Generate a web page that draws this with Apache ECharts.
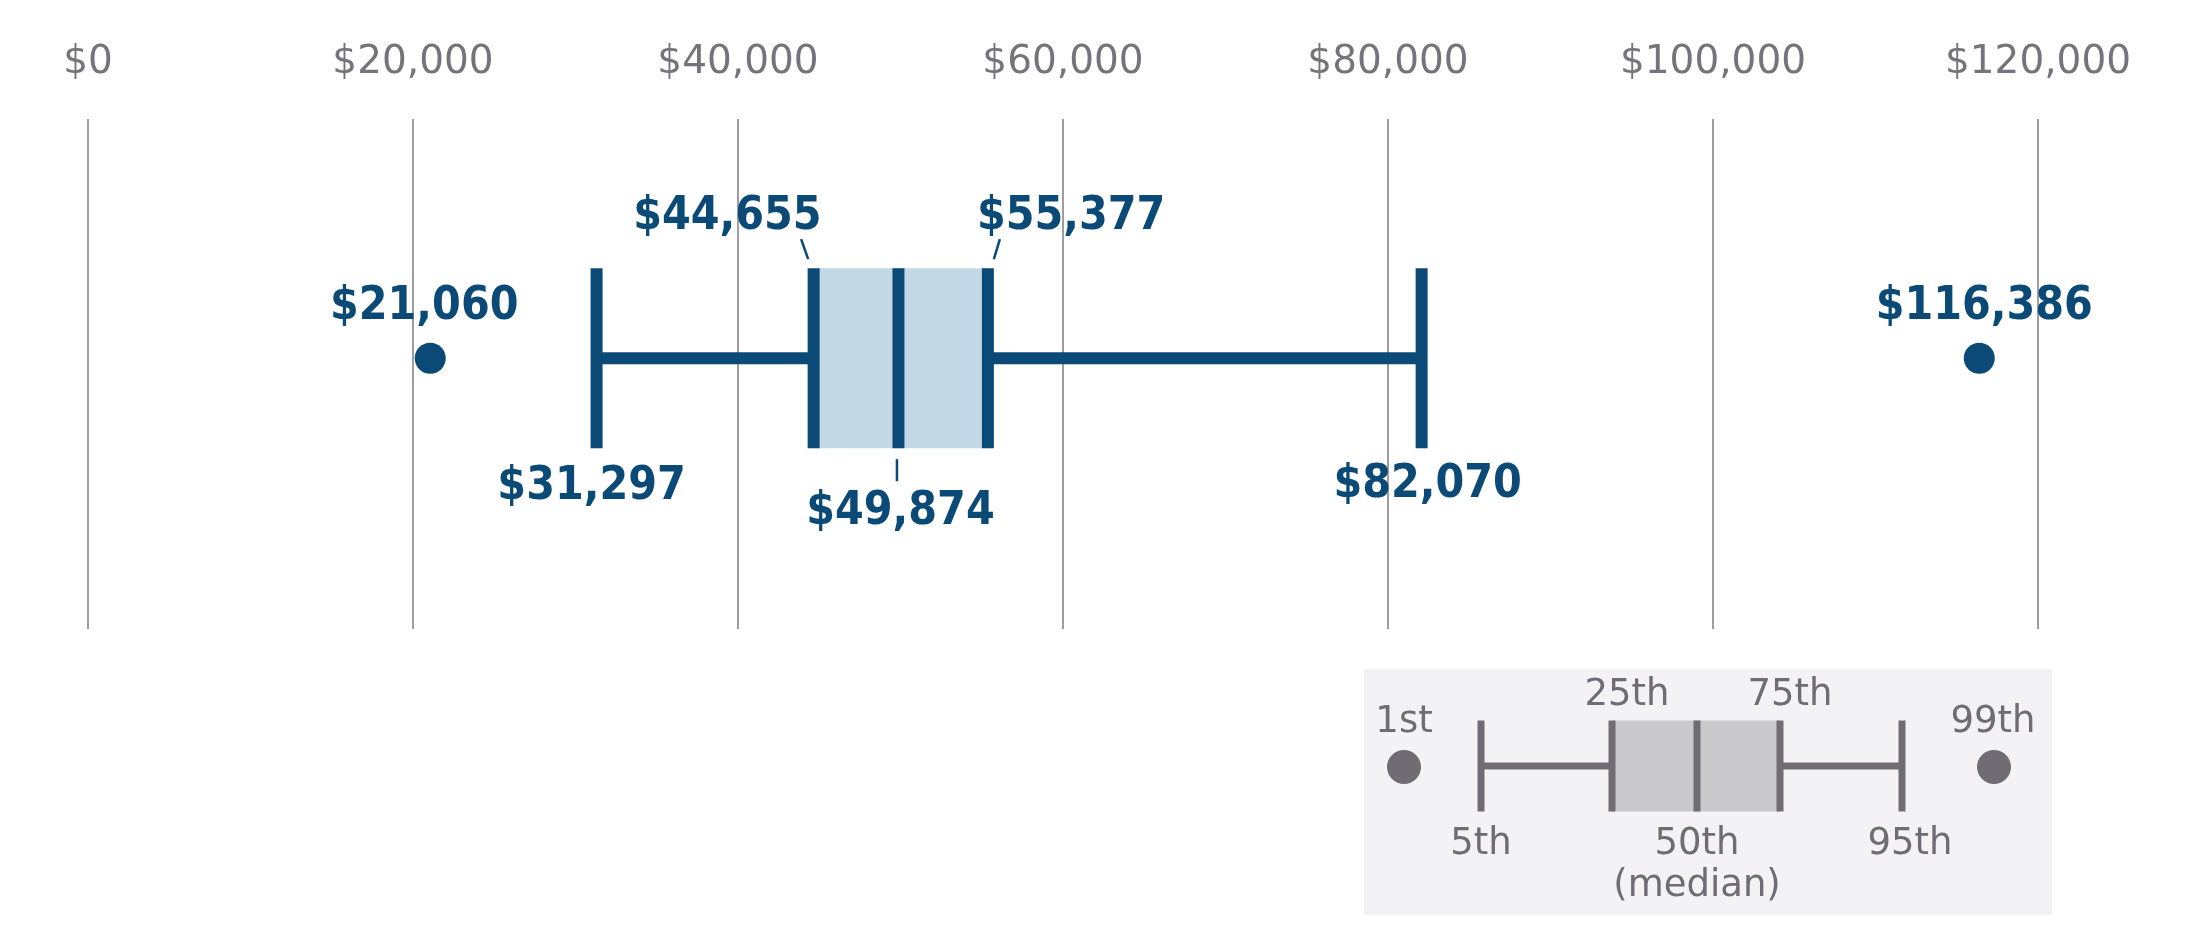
<!DOCTYPE html>
<html>
<head>
<meta charset="utf-8">
<script src="https://cdn.jsdelivr.net/npm/echarts@6/dist/echarts.min.js"></script>
<style>
html,body{margin:0;padding:0;background:#fff;}
#chart{width:2188px;height:943px;}
</style>
</head>
<body>
<div id="chart"></div>
<script>
// ---- data ----
const percentileNames = ['1st', '5th', '25th', '50th', '75th', '95th', '99th'];
const percentileValues = [21060, 31297, 44655, 49874, 55377, 82070, 116386];
const tickValues = [0, 20000, 40000, 60000, 80000, 100000, 120000];

// ---- style ----
const DARK = '#0b4a76';
const LIGHT = '#c2d9e5';
const GRID_GRAY = '#9e9ea0';
const TICK_GRAY = '#76737a';
const LEG_GRAY = '#6f6c73';
const LEG_FILL = '#c9c8cb';
const LEG_BG = '#f3f3f5';
const ROW_Y = 0.531;
const REG_FONT = "'DejaVu Sans', 'Liberation Sans', sans-serif";
const BOLD_FONT = "'DejaVu Sans Condensed', 'Liberation Sans', sans-serif";

const fmt = v => '$' + Math.round(v).toLocaleString('en-US');

const chart = echarts.init(document.getElementById('chart'), null, {renderer: 'canvas'});

function boldText(x, y, text, align) {
  return {
    type: 'text',
    style: {
      x: x, y: y, text: text,
      fill: DARK,
      font: 'bold 46px ' + BOLD_FONT,
      textAlign: align || 'center',
      textVerticalAlign: 'middle'
    }
  };
}

function renderBox(params, api) {
  const yc = api.coord([0, ROW_Y])[1];
  const X = i => api.coord([api.value(i), ROW_Y])[0];
  const x5 = X(1), x25 = X(2), x50 = X(3), x75 = X(4), x95 = X(5);
  const half = 90, lw = 12;
  const lineStyle = {stroke: DARK, lineWidth: lw};
  const thin = {stroke: DARK, lineWidth: 2.5};
  const children = [
    {type: 'rect', shape: {x: x25, y: yc - half, width: x75 - x25, height: 2 * half}, style: {fill: LIGHT}},
    {type: 'line', shape: {x1: x5, y1: yc, x2: x25, y2: yc}, style: lineStyle},
    {type: 'line', shape: {x1: x75, y1: yc, x2: x95, y2: yc}, style: lineStyle},
    {type: 'line', shape: {x1: x5, y1: yc - half, x2: x5, y2: yc + half}, style: lineStyle},
    {type: 'line', shape: {x1: x95, y1: yc - half, x2: x95, y2: yc + half}, style: lineStyle},
    {type: 'line', shape: {x1: x25, y1: yc - half, x2: x25, y2: yc + half}, style: lineStyle},
    {type: 'line', shape: {x1: x50, y1: yc - half, x2: x50, y2: yc + half}, style: lineStyle},
    {type: 'line', shape: {x1: x75, y1: yc - half, x2: x75, y2: yc + half}, style: lineStyle},
    // leader ticks
    {type: 'line', shape: {x1: x25 - 12.5, y1: yc - 119, x2: x25 - 5.5, y2: yc - 99}, style: thin},
    {type: 'line', shape: {x1: x75 + 12, y1: yc - 119, x2: x75 + 6, y2: yc - 99}, style: thin},
    {type: 'line', shape: {x1: x50 - 1.5, y1: yc + 101, x2: x50 - 1.5, y2: yc + 123}, style: thin},
    // value labels
    boldText(x25 + 8, yc - 141, fmt(api.value(2)), 'right'),
    boldText(x75 - 11, yc - 141, fmt(api.value(4)), 'left'),
    boldText(x50 + 2, yc + 154, fmt(api.value(3))),
    boldText(x5 - 5, yc + 129, fmt(api.value(1))),
    boldText(x95 + 6, yc + 127, fmt(api.value(5))),
    boldText(X(0) - 6, yc - 51, fmt(api.value(0))),
    boldText(X(6) + 5, yc - 51, fmt(api.value(6)))
  ];
  return {type: 'group', children: children};
}

// ---- legend (key) ----
const LX = {p1: 1404, p5: 1481, q1: 1612, med: 1697, q3: 1780, p95: 1902, p99: 1994};
const LYC = 766, LH = 45.5;
const legLine = {stroke: LEG_GRAY, lineWidth: 7};
function legText(x, y, t) {
  return {type: 'text', style: {x: x, y: y, text: t, fill: LEG_GRAY, font: '37px ' + REG_FONT, textAlign: 'center', textVerticalAlign: 'middle'}};
}
const legend = [
  {type: 'rect', shape: {x: 1364, y: 669, width: 688, height: 246}, style: {fill: LEG_BG}},
  {type: 'rect', shape: {x: LX.q1, y: LYC - LH, width: LX.q3 - LX.q1, height: 2 * LH}, style: {fill: LEG_FILL}},
  {type: 'line', shape: {x1: LX.p5, y1: LYC, x2: LX.q1, y2: LYC}, style: legLine},
  {type: 'line', shape: {x1: LX.q3, y1: LYC, x2: LX.p95, y2: LYC}, style: legLine},
  {type: 'line', shape: {x1: LX.p5, y1: LYC - LH, x2: LX.p5, y2: LYC + LH}, style: legLine},
  {type: 'line', shape: {x1: LX.q1, y1: LYC - LH, x2: LX.q1, y2: LYC + LH}, style: legLine},
  {type: 'line', shape: {x1: LX.med, y1: LYC - LH, x2: LX.med, y2: LYC + LH}, style: legLine},
  {type: 'line', shape: {x1: LX.q3, y1: LYC - LH, x2: LX.q3, y2: LYC + LH}, style: legLine},
  {type: 'line', shape: {x1: LX.p95, y1: LYC - LH, x2: LX.p95, y2: LYC + LH}, style: legLine},
  {type: 'circle', shape: {cx: LX.p1, cy: LYC + 1, r: 17}, style: {fill: LEG_GRAY}},
  {type: 'circle', shape: {cx: LX.p99, cy: LYC + 1, r: 17}, style: {fill: LEG_GRAY}},
  legText(LX.p1, 722, percentileNames[0]),
  legText(LX.p99 - 1, 722, percentileNames[6]),
  legText(LX.q1 + 15, 695, percentileNames[2]),
  legText(LX.q3 + 10, 695, percentileNames[4]),
  legText(LX.p5, 844, percentileNames[1]),
  legText(LX.med, 844, percentileNames[3]),
  legText(LX.p95 + 8, 844, percentileNames[5]),
  legText(LX.med, 886, '(median)')
];

const option = {
  backgroundColor: '#ffffff',
  animation: false,
  grid: {left: 88, right: 150, top: 119, bottom: 314, containLabel: false},
  xAxis: {
    type: 'value',
    position: 'top',
    min: tickValues[0],
    max: tickValues[tickValues.length - 1],
    interval: tickValues[1] - tickValues[0],
    axisLine: {show: false},
    axisTick: {show: false},
    splitLine: {show: true, lineStyle: {color: GRID_GRAY, width: 2}},
    axisLabel: {
      show: true,
      margin: 56,
      verticalAlign: 'middle',
      color: TICK_GRAY,
      fontSize: 39,
      fontFamily: REG_FONT,
      formatter: v => fmt(v)
    }
  },
  yAxis: {type: 'value', min: 0, max: 1, show: false},
  series: [
    {
      type: 'custom',
      renderItem: renderBox,
      encode: {x: [0, 1, 2, 3, 4, 5, 6]},
      data: [percentileValues],
      z: 3
    },
    {
      type: 'scatter',
      symbol: 'circle',
      symbolSize: 31,
      itemStyle: {color: DARK, opacity: 1},
      data: [[percentileValues[0], ROW_Y], [percentileValues[6], ROW_Y]],
      z: 4
    }
  ],
  graphic: legend
};
chart.setOption(option);
</script>
</body>
</html>
